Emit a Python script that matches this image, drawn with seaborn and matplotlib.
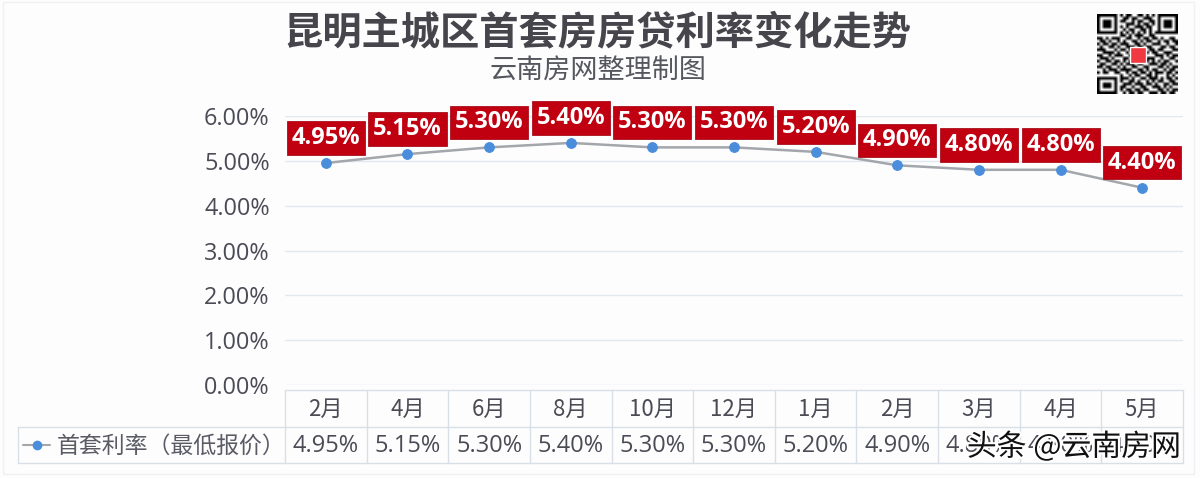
import numpy as np
import pandas as pd
import matplotlib
matplotlib.use("Agg")
import matplotlib.pyplot as plt
import matplotlib.patheffects as pe
from matplotlib.lines import Line2D
from matplotlib.patches import Rectangle
import seaborn as sns

# -----------------------------
# Data
# -----------------------------
months = ["2月", "4月", "6月", "8月", "10月", "12月", "1月", "2月", "3月", "4月", "5月"]
rates = [4.95, 5.15, 5.30, 5.40, 5.30, 5.30, 5.20, 4.90, 4.80, 4.80, 4.40]
y_ticks = [0, 1, 2, 3, 4, 5, 6]
series_name = "首套利率（最低报价）"
title = "昆明主城区首套房房贷利率变化走势"
subtitle = "云南房网整理制图"
watermark = "头条 @云南房网"

# decoration only, top right corner
qr_rows = [
    "1111111010110011010101111111",
    "1000001001101100111001000001",
    "1011101011001011001101011101",
    "1011101000111010110101011101",
    "1011101010100111011001011101",
    "1000001001011001101001000001",
    "1111111010101010101011111111",
    "0000000011010111001100000000",
    "1101011100110010110110100110",
    "0110100101001101011001011011",
    "1011011011100110100111001001",
    "0100110100111011011000110110",
    "1110001011010001101101100011",
    "0011110100101110010110011100",
    "1100101110010101100011101011",
    "0111010001101011011100100110",
    "1001101101010100110101011001",
    "0110011010111011001110110100",
    "1101100101001100110001101011",
    "0010111011110011010110010110",
    "1011001100101101101011101101",
    "0000000010010110011010001010",
    "1111111011101001101110101101",
    "1000001010011010010101100110",
    "1011101001110111011010011011",
    "1011101011001001100111010100",
    "1000001010110110110001101011",
    "1111111001011011001110110110",
]

# -----------------------------
# Theme
# -----------------------------
sns.set_theme(style="white")
plt.rcParams["font.family"] = ["Noto Sans CJK SC", "DejaVu Sans"]

W, H = 1200, 478
TEXT = "#4a4b55"
GRID = "#e3e8ef"
BORDER = "#d9dfe7"
RED = "#c00010"
LATIN = ["Open Sans", "DejaVu Sans"]


def fx(px):
    return px / W


def fy(py):
    return 1 - py / H


fig = plt.figure(figsize=(W / 100, H / 100), dpi=100, facecolor="#fdfdfe")
fig.add_artist(Rectangle((fx(3), fy(474)), fx(1194) - fx(3), fy(2) - fy(474), transform=fig.transFigure,
                         facecolor="none", edgecolor="#eef0f3", linewidth=1))

# -----------------------------
# Line chart
# -----------------------------
ax = fig.add_axes([fx(285), fy(385), fx(1183) - fx(285), fy(116) - fy(385)])
ax.set_facecolor("none")

df = pd.DataFrame({"pos": range(len(months)), "rate": rates})

sns.lineplot(
    data=df,
    x="pos",
    y="rate",
    ax=ax,
    color="#a3a6ab",
    linewidth=1.8,
    marker="o",
    markersize=7,
    markerfacecolor="#4a8edb",
    markeredgecolor="#4a8edb",
    zorder=3,
)

ax.set_xlim(-0.5, len(months) - 0.5)
ax.set_ylim(0, 6)
ax.set_yticks(y_ticks)
ax.set_yticklabels([f"{v:.2f}%" for v in y_ticks], fontsize=16.8, color=TEXT, family=LATIN)
ax.set_xticks([])
ax.set_xlabel("")
ax.set_ylabel("")
ax.tick_params(axis="y", length=0, pad=11)
ax.grid(axis="y", color=GRID, linewidth=1)
ax.set_axisbelow(True)
sns.despine(ax=ax, left=True, right=True, top=True, bottom=True)

# red value labels
for i, v in enumerate(rates):
    ax.annotate(
        f"{v:.2f}%",
        xy=(i, v),
        xytext=(0, 18),
        textcoords="offset points",
        ha="center",
        va="center",
        fontsize=17,
        fontweight="bold",
        color="white",
        family=LATIN,
        bbox=dict(boxstyle="square,pad=0.2", facecolor=RED, edgecolor="#a8101c", linewidth=0.6),
        zorder=5,
    )

# -----------------------------
# Data table under the chart
# -----------------------------
table_left, table_right = 18, 1183
table_top, table_mid, table_bottom = 390, 427, 463
col_w = (1183 - 285) / len(months)

for y in (table_mid, table_bottom):
    fig.add_artist(Line2D([fx(table_left), fx(table_right)], [fy(y), fy(y)], color=BORDER, lw=1))
fig.add_artist(Line2D([fx(285), fx(table_right)], [fy(table_top), fy(table_top)], color=BORDER, lw=1))
fig.add_artist(Line2D([fx(table_left), fx(table_left)], [fy(table_mid), fy(table_bottom)], color=BORDER, lw=1))

for i in range(len(months) + 1):
    x = 285 + i * col_w
    fig.add_artist(Line2D([fx(x), fx(x)], [fy(table_top), fy(table_bottom)], color=BORDER, lw=1))

for i, (m, v) in enumerate(zip(months, rates)):
    x = 285 + (i + 0.5) * col_w
    fig.text(fx(x), fy(409), m, ha="center", va="center", fontsize=16, color=TEXT)
    fig.text(fx(x), fy(446), f"{v:.2f}%", ha="center", va="center", fontsize=17, color=TEXT, family=LATIN)

fig.add_artist(Line2D([fx(23), fx(50)], [fy(445), fy(445)], color="#a3a6ab", lw=1.5))
fig.add_artist(Line2D([fx(36.5)], [fy(445)], marker="o", markersize=6, color="#4a8edb"))
fig.text(fx(57), fy(446), series_name, ha="left", va="center", fontsize=16.5, color="#5a5b64")

# -----------------------------
# Titles
# -----------------------------
fig.text(fx(597), fy(33), title, ha="center", va="center", fontsize=28.3, fontweight="bold", color="#45454b")
fig.text(fx(598), fy(71), subtitle, ha="center", va="center", fontsize=19.5, color="#55565e")

# -----------------------------
# QR corner
# -----------------------------
qr = np.array([[int(c) for c in row] for row in qr_rows])
qr_ax = fig.add_axes([fx(1097), fy(94), fx(1178) - fx(1097), fy(14) - fy(94)])
qr_ax.imshow(qr, cmap="gray_r", interpolation="bilinear", aspect="auto", vmin=0, vmax=1)
qr_ax.add_patch(Rectangle((11, 11), 5.5, 5.5, facecolor="#ee3a40", edgecolor="white", linewidth=1))
qr_ax.axis("off")

# -----------------------------
# Watermark
# -----------------------------
fig.text(
    fx(1074), fy(447), watermark, ha="center", va="center", fontsize=21.5, color="#111111", zorder=20,
    path_effects=[pe.withStroke(linewidth=3, foreground="white")],
)

plt.savefig("out.png", dpi=100, facecolor=fig.get_facecolor())
plt.close()
